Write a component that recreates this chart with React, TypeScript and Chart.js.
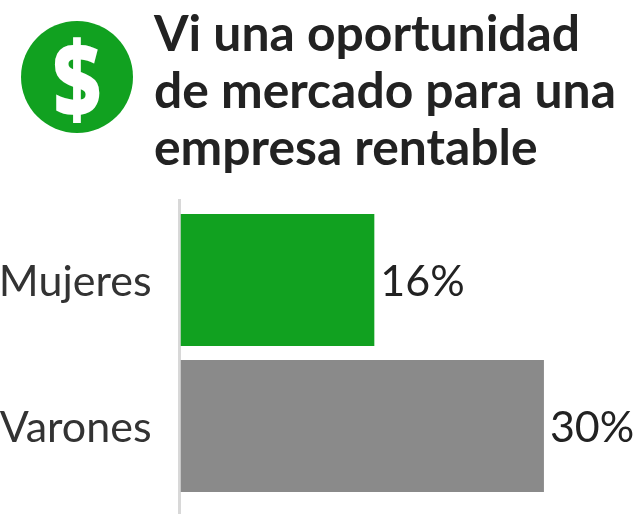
import React, { useEffect, useRef } from "react";
import { Chart, registerables } from "chart.js";

Chart.register(...registerables);

const categories = ["Mujeres", "Varones"];
const values = [16, 30];
const barColors = ["#11a120", "#8a8a8a"];
const titleLines = ["Vi una oportunidad", "de mercado para una", "empresa rentable"];
const FONT = "Lato, 'Noto Sans', sans-serif";

export default function App() {
  const ref = useRef<HTMLCanvasElement>(null);
  useEffect(() => {
    document.body.style.margin = "0";
    const extras = {
      id: "extras",
      beforeDatasetsDraw(chart: any) {
        const { ctx, chartArea, scales } = chart;
        const x0 = scales.x.getPixelForValue(0);
        ctx.save();
        ctx.strokeStyle = "#d8d8d8";
        ctx.lineWidth = 3;
        ctx.beginPath();
        ctx.moveTo(x0 - 1, chartArea.top - 8);
        ctx.lineTo(x0 - 1, chartArea.bottom + 15);
        ctx.stroke();
        ctx.restore();
      },
      afterDatasetsDraw(chart: any) {
        const { ctx, scales } = chart;
        ctx.save();
        ctx.fillStyle = "#222222";
        ctx.font = `43px ${FONT}`;
        ctx.textAlign = "left";
        ctx.textBaseline = "middle";
        values.forEach((v, i) => {
          ctx.fillText(`${v}%`, scales.x.getPixelForValue(v) + 6, scales.y.getPixelForValue(i) + 2);
        });
        ctx.restore();
      },
    };
    const chart = new Chart(ref.current!, {
      type: "bar",
      data: {
        labels: categories,
        datasets: [{ data: values, backgroundColor: barColors, barPercentage: 1, categoryPercentage: 132 / 146 }],
      },
      options: {
        indexAxis: "y",
        animation: false,
        responsive: false,
        maintainAspectRatio: false,
        layout: { padding: { top: 207, bottom: 15, left: 0, right: 34.5 } },
        plugins: { legend: { display: false }, tooltip: { enabled: false } },
        scales: {
          x: {
            min: 0,
            max: 35,
            grid: { display: false, drawTicks: false },
            border: { display: false },
            ticks: { display: false },
            afterFit(s: any) { s.height = 0; s.paddingLeft = 0; s.paddingRight = 0; },
          },
          y: {
            grid: { display: false },
            border: { display: false },
            afterFit(s: any) { s.width = 180.5; s.paddingTop = 0; s.paddingBottom = 0; },
            ticks: { color: "#333333", padding: 21, labelOffset: 2, font: { family: FONT, size: 43 } },
          },
        },
      },
      plugins: [extras],
    } as any);
    return () => chart.destroy();
  }, []);

  return (
    <div style={{ position: "relative", width: 639, height: 514, background: "#fff", overflow: "hidden" }}>
      <canvas ref={ref} width={639} height={514} style={{ position: "absolute", left: 0, top: 0, width: 639, height: 514 }} />
      <div style={{ position: "absolute", left: 21, top: 21, width: 112, height: 112, borderRadius: "50%", background: "#11a120" }} />
      <div style={{ position: "absolute", left: 21, top: 21, width: 112, height: 112, color: "#fff", fontFamily: "'Open Sans', sans-serif", fontWeight: 800, fontSize: 84, lineHeight: "112px", textAlign: "center", transform: "scaleY(1.25)" }}>$</div>
      <div style={{ position: "absolute", left: 154, top: 4, fontFamily: FONT, fontWeight: 700, fontSize: 49.8, lineHeight: "57px", color: "#222222", whiteSpace: "nowrap" }}>
        {titleLines.map((t) => <div key={t}>{t}</div>)}
      </div>
    </div>
  );
}
